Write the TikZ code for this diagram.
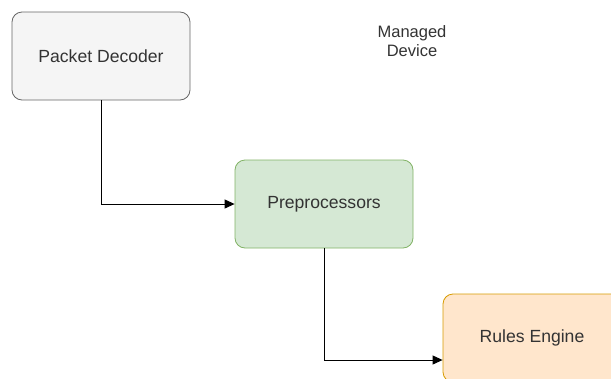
\documentclass[tikz,border=0pt]{standalone}
\usepackage{fontspec}
\setmainfont{Liberation Sans}
\usetikzlibrary{arrows.meta}
\definecolor{greyfill}{HTML}{F5F5F5}
\definecolor{greyline}{HTML}{666666}
\definecolor{greenfill}{HTML}{D5E8D4}
\definecolor{greenline}{HTML}{82B366}
\definecolor{orangefill}{HTML}{FFE6CC}
\definecolor{orangeline}{HTML}{D79B00}
\definecolor{textgrey}{HTML}{333333}

\begin{document}
\begin{tikzpicture}[x=1pt,y=-1pt,
  block/.style={draw,rounded corners=10pt,line width=0.8pt,minimum width=178pt,
    minimum height=88pt,font=\fontsize{17.6}{20}\selectfont,text=textgrey},
  link/.style={draw=black,line width=1pt,-{Triangle[length=10pt,width=9pt]}}]
\useasboundingbox (0,0) rectangle (611,378);
\clip (0,0) rectangle (611,378);
            % Blocks
\node[block,fill=greyfill,draw=greyline] (decoder) at (101,56) {Packet Decoder};
\node[block,fill=greenfill,draw=greenline] (pre) at (324,204) {Preprocessors};
\node[block,fill=orangefill,draw=orangeline] (rules) at (532,338) {Rules Engine};
\node[align=center,font=\fontsize{16.5}{19}\selectfont,text=textgrey] (dev) at (412,41) {Managed\\Device};
%Connections
\draw[link] (decoder.south) |- (pre.west);
\draw[link] (pre.south) |- (rules.west |- 0,360);
          \end{tikzpicture}
\end{document}
